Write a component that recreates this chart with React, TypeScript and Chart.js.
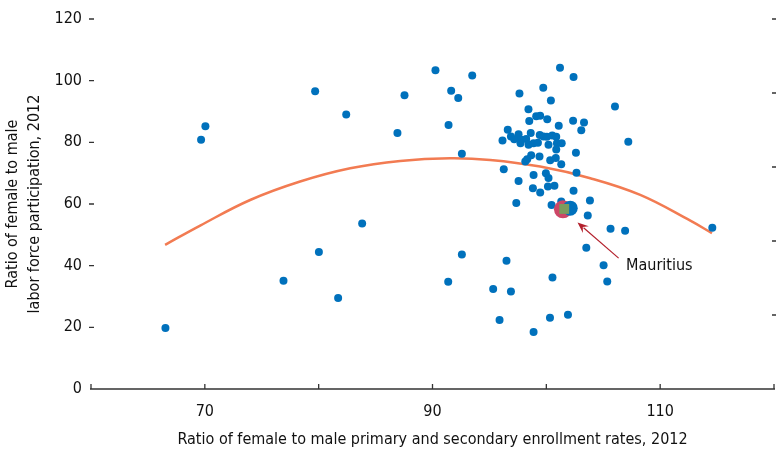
import React, { useEffect, useRef } from "react";
import { Chart, registerables } from "chart.js";

Chart.register(...registerables);

const FONT = "'DejaVu Sans Condensed', 'DejaVu Sans', sans-serif";
const FS = 16;

// Country observations: enrollment ratio (x) vs labor-force ratio (y)
const enrollX = [
  101.2, 90.26, 102.39, 93.49, 99.73, 91.64, 79.69, 97.64, 87.54, 92.26,
  100.4, 106.03, 98.43, 82.42, 99.11, 99.46, 100.08, 98.5, 102.35, 103.31,
  91.41, 101.09, 70.05, 103.07, 96.61, 86.92, 98.63, 97.56, 99.42, 99.75,
  100.05, 100.52, 100.87, 96.89, 97.18, 97.79, 98.23, 96.15, 69.67, 107.2,
  97.73, 98.44, 98.88, 99.26, 100.19, 100.93, 101.35, 100.87, 102.6, 92.58,
  98.67, 99.4, 98.32, 98.15, 100.34, 100.83, 101.31, 96.26, 98.88, 99.96,
  100.19, 102.65, 97.56, 98.82, 99.46, 100.14, 100.71, 102.39, 97.36, 100.46,
  103.83, 101.31, 103.64, 105.64, 106.92, 114.58, 103.51, 83.82, 80.02, 92.58,
  96.5, 105.03, 76.91, 91.38, 100.54, 105.35, 95.33, 96.89, 81.71, 95.89,
  100.32, 101.9, 66.54, 98.88,
];
const laborY = [
  104.2, 103.4, 101.2, 101.7, 97.7, 96.7, 96.6, 95.8, 95.3, 94.4,
  93.6, 91.6, 90.7, 89.0, 88.5, 88.6, 87.5, 86.9, 87.0, 86.4,
  85.6, 85.4, 85.2, 83.9, 84.1, 83.0, 83.0, 82.6, 82.4, 81.9,
  81.8, 82.2, 81.8, 81.9, 81.0, 80.8, 81.1, 80.6, 80.8, 80.2,
  79.7, 79.2, 79.7, 79.9, 79.2, 79.7, 79.7, 77.7, 76.6, 76.3,
  75.8, 75.4, 74.5, 73.8, 74.2, 74.9, 72.9, 71.3, 69.4, 70.0,
  68.4, 70.1, 67.5, 65.1, 63.7, 65.7, 65.9, 64.3, 60.3, 59.7,
  61.1, 60.8, 56.3, 52.0, 51.3, 52.3, 45.8, 53.7, 44.4, 43.6,
  41.6, 40.1, 35.1, 34.8, 36.2, 34.9, 32.4, 31.6, 29.5, 22.4,
  23.1, 24.1, 19.8, 18.5,
];

// Fitted curve
const fitX = [66.51, 69.59, 73.98, 78.37, 82.77, 87.16, 91.55, 95.07, 99.46, 103.86, 108.25, 112.65, 114.55];
const fitY = [46.76, 53.0, 61.3, 67.3, 71.6, 73.98, 74.85, 74.3, 72.13, 68.37, 62.96, 54.6, 50.55];

// Mauritius highlight
const mauritiusRedX = [101.46];
const mauritiusRedY = [58.26];
const mauritiusBlueX = [102.1];
const mauritiusBlueY = [58.65];
const mauritiusSquareX = [101.57];
const mauritiusSquareY = [58.4];
const arrowFrom = [106.35, 42.45];
const arrowTo = [102.74, 54.0];
const labelPos = [107.0, 39.95];
const labelText = "Mauritius";

// Axes
const xMin = 60;
const xMax = 120;
const xTickValues = [60, 70, 80, 90, 100, 110, 120];
const xLabelValues = [70, 90, 110];
const yTickValues = [20, 40, 60, 80, 100, 120];
const rightTickValues = [24, 48, 72, 96, 120];
const xTitle = "Ratio of female to male primary and secondary enrollment rates, 2012";
const yTitle = ["Ratio of female to male", "labor force participation, 2012"];

const toPts = (xs: number[], ys: number[]) => xs.map((x, i) => ({ x, y: ys[i] }));

const decorPlugin = {
  id: "decor",
  afterDraw(chart: any) {
    const { ctx, chartArea, scales } = chart;
    const x = scales.x;
    const y = scales.y;
    ctx.save();
    ctx.strokeStyle = "#333";
    ctx.lineWidth = 1.3;
    const by = chartArea.bottom;
    ctx.beginPath();
    ctx.moveTo(x.getPixelForValue(xMin) - 1, by);
    ctx.lineTo(x.getPixelForValue(xMax) + 1, by);
    for (const v of xTickValues) {
      const px = x.getPixelForValue(v);
      ctx.moveTo(px, by);
      ctx.lineTo(px, by - 5);
    }
    for (const v of yTickValues) {
      const py = y.getPixelForValue(v);
      ctx.moveTo(chartArea.left - 2, py);
      ctx.lineTo(chartArea.left + 3, py);
    }
    for (const v of rightTickValues) {
      const py = y.getPixelForValue(v);
      ctx.moveTo(chartArea.right - 2, py);
      ctx.lineTo(chartArea.right + 2, py);
    }
    ctx.stroke();

    // arrow
    const x1 = x.getPixelForValue(arrowFrom[0]);
    const y1 = y.getPixelForValue(arrowFrom[1]);
    const x2 = x.getPixelForValue(arrowTo[0]);
    const y2 = y.getPixelForValue(arrowTo[1]);
    const ang = Math.atan2(y2 - y1, x2 - x1);
    const headLen = 11;
    const headW = 4.5;
    const ux = Math.cos(ang);
    const uy = Math.sin(ang);
    ctx.strokeStyle = "#b3202c";
    ctx.fillStyle = "#b3202c";
    ctx.lineWidth = 1.2;
    ctx.beginPath();
    ctx.moveTo(x1, y1);
    ctx.lineTo(x2 - ux * (headLen - 3), y2 - uy * (headLen - 3));
    ctx.stroke();
    ctx.beginPath();
    ctx.moveTo(x2, y2);
    ctx.lineTo(x2 - ux * headLen - uy * headW, y2 - uy * headLen + ux * headW);
    ctx.lineTo(x2 - ux * (headLen - 4), y2 - uy * (headLen - 4));
    ctx.lineTo(x2 - ux * headLen + uy * headW, y2 - uy * headLen - ux * headW);
    ctx.closePath();
    ctx.fill();

    ctx.fillStyle = "#111";
    ctx.font = `${FS}px ${FONT}`;
    ctx.textAlign = "left";
    ctx.textBaseline = "middle";
    ctx.fillText(labelText, x.getPixelForValue(labelPos[0]), y.getPixelForValue(labelPos[1]));
    ctx.restore();
  },
};

export default function App() {
  const ref = useRef<HTMLCanvasElement | null>(null);
  useEffect(() => {
    if (!ref.current) return;
    Chart.defaults.font.family = FONT;
    const chart = new Chart(ref.current, {
      type: "scatter",
      data: {
        datasets: [
          {
            type: "line",
            data: toPts(fitX, fitY),
            borderColor: "#f27b52",
            borderWidth: 2.5,
            pointRadius: 0,
            tension: 0.4,
            fill: false,
            order: 5,
          } as any,
          {
            data: toPts(enrollX, laborY),
            backgroundColor: "#0071bc",
            borderWidth: 0,
            pointRadius: 4,
            order: 4,
          },
          {
            data: toPts(mauritiusRedX, mauritiusRedY),
            backgroundColor: "#cd4767",
            borderWidth: 0,
            pointRadius: 9,
            order: 3,
          },
          {
            data: toPts(mauritiusBlueX, mauritiusBlueY),
            backgroundColor: "#0071bc",
            borderWidth: 0,
            pointRadius: 7.5,
            order: 2,
          },
          {
            data: toPts(mauritiusSquareX, mauritiusSquareY),
            backgroundColor: "#7b9c5e",
            borderWidth: 0,
            pointStyle: "rect",
            pointRadius: 7,
            order: 1,
          },
        ],
      },
      options: {
        animation: false,
        responsive: false,
        events: [],
        layout: { autoPadding: false, padding: { top: 19, right: 2, left: 0, bottom: 0 } },
        plugins: { legend: { display: false }, tooltip: { enabled: false } },
        scales: {
          x: {
            type: "linear",
            min: xMin,
            max: xMax,
            border: { display: false },
            grid: { display: false, drawTicks: false },
            ticks: {
              stepSize: 10,
              padding: 13,
              color: "#111",
              font: { size: FS, family: FONT },
              maxRotation: 0,
              autoSkip: false,
              callback: (v: any) => (xLabelValues.includes(Number(v)) ? String(v) : ""),
            },
            title: {
              display: true,
              text: xTitle,
              color: "#111",
              font: { size: FS, family: FONT },
              padding: { top: 0, bottom: 4 },
            },
            afterFit: (s: any) => {
              s.height = 64;
              s.paddingLeft = 0;
              s.paddingRight = 0;
            },
          },
          y: {
            type: "linear",
            min: 0,
            max: 120,
            border: { display: false },
            grid: { display: false, drawTicks: false },
            ticks: {
              stepSize: 20,
              padding: 9,
              color: "#111",
              font: { size: FS, family: FONT },
            },
            title: {
              display: true,
              text: yTitle,
              color: "#111",
              font: { size: FS, family: FONT, lineHeight: 1.35 },
              padding: { top: 2, bottom: 0 },
            },
            afterFit: (s: any) => {
              s.width = 91;
              s.paddingTop = 0;
              s.paddingBottom = 0;
            },
          },
        },
      },
      plugins: [decorPlugin],
    });
    return () => chart.destroy();
  }, []);
  return (
    <div style={{ position: "absolute", left: 0, top: 0, width: 776, height: 453, background: "#fff" }}>
      <canvas ref={ref} width={776} height={453} style={{ width: 776, height: 453 }} />
    </div>
  );
}
